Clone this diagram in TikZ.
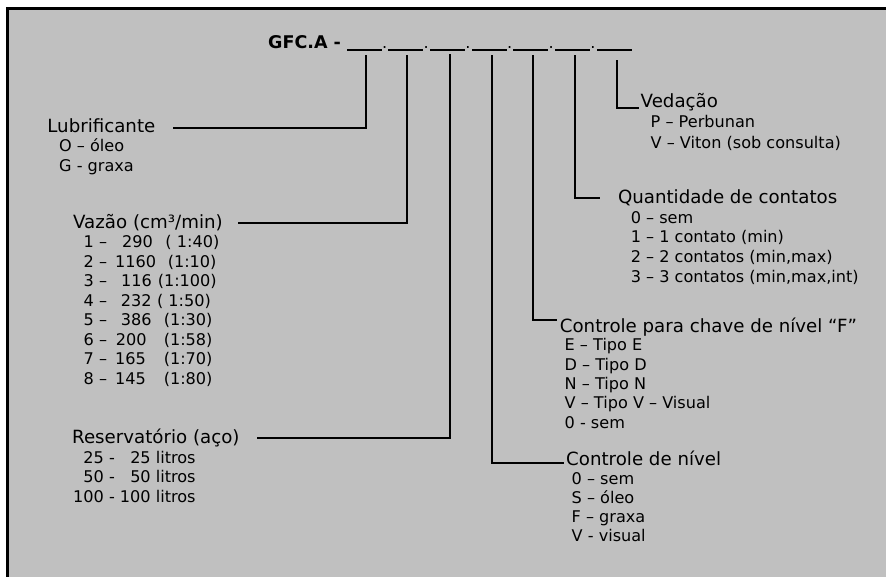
\documentclass[tikz,border=0pt]{standalone}
\usepackage{fontspec}
\setmainfont{DejaVu Sans}
\definecolor{bg}{RGB}{192,192,192}
\newcommand\vzrow[5]{\makebox[#4pt][l]{#1}\makebox[\dimexpr#5pt-#4pt\relax][l]{#2}#3}
\newcommand\rsrow[2]{\makebox[30.75pt][r]{#1} - \makebox[30.75pt][r]{#2} litros}
\begin{document}
\begin{tikzpicture}[x=1pt,y=-1pt,
  head/.style={anchor=base west,inner sep=0pt,font=\fontsize{18.2}{20}\selectfont},
  item/.style={anchor=base west,inner sep=0pt,font=\fontsize{16.1}{19}\selectfont},
  conn/.style={line width=2pt},
  blank/.style={fill=black,inner sep=0pt,minimum width=35pt,minimum height=1.6pt},
  dotlbl/.style={anchor=base,inner sep=0pt,font=\fontsize{16.1}{19}\selectfont}]
\useasboundingbox (0,0) rectangle (886,577);
\fill[bg] (6,7) rectangle (886,577);
\draw[line width=3pt] (7.25,577) -- (7.25,8.5) -- (886,8.5);

% title and blanks
\node[head,font=\bfseries\fontsize{17.5}{20}\selectfont] (title) at (268,48.3) {GFC.A -};
\foreach \i in {1,...,7} \node[blank] (b\i) at ({364.2+41.67*(\i-1)},50.2) {};
\foreach \i in {1,...,6} \node[dotlbl] (d\i) at ({384.6+41.67*(\i-1)},48.3) {.};

% headings
\node[head] (ved) at (640.5,107.7) {Vedação};
\node[head] (qty) at (617.8,203.3) {Quantidade de contatos};
\node[head] (cpc) at (559.7,332.5) {Controle para chave de nível “F”};
\node[head] (cdn) at (566,465) {Controle de nível};
\node[head] (lub) at (47.2,132.3) {Lubrificante};
\node[head] (vaz) at (73,228.3) {Vazão (cm³/min)};
\node[head] (res) at (72,443.3) {Reservatório (aço)};

% items
\node[item] (ved1) at (650.5,128) {P – Perbunan};
\node[item] (ved2) at (650.5,148.3) {V – Viton (sob consulta)};

\node[item] (qty1) at (630.6,223.3) {0 – sem};
\node[item] (qty2) at (630.6,243) {1 – 1 contato (min)};
\node[item] (qty3) at (630.6,262.6) {2 – 2 contatos (min,max)};
\node[item] (qty4) at (630.6,282.3) {3 – 3 contatos (min,max,int)};

\node[item] (cpc1) at (564.5,350.7) {E – Tipo E};
\node[item] (cpc2) at (564.5,370.1) {D – Tipo D};
\node[item] (cpc3) at (564.5,389.5) {N – Tipo N};
\node[item] (cpc4) at (564.5,408.9) {V – Tipo V – Visual};
\node[item] (cpc5) at (564.5,428.3) {0 - sem};

\node[item] (cdn1) at (571.5,484) {0 – sem};
\node[item] (cdn2) at (571.5,503.2) {S – óleo};
\node[item] (cdn3) at (571.5,522.4) {F – graxa};
\node[item] (cdn4) at (571.5,541.6) {V - visual};

\node[item] (lub1) at (59,151.7) {O – óleo};
\node[item] (lub2) at (59,171.7) {G - graxa};

\node[item] (vaz1) at (83.5,248) {\vzrow{1 –}{290}{( 1:40)}{38.5}{81.8}};
\node[item] (vaz2) at (83.5,267.4) {\vzrow{2 –}{1160}{(1:10)}{31.5}{84.1}};
\node[item] (vaz3) at (83.5,286.9) {\vzrow{3 –}{116}{(1:100)}{37.5}{74.1}};
\node[item] (vaz4) at (83.5,306.3) {\vzrow{4 –}{232}{( 1:50)}{37.3}{73.4}};
\node[item] (vaz5) at (83.5,325.7) {\vzrow{5 –}{386}{(1:30)}{37.3}{80.1}};
\node[item] (vaz6) at (83.5,345.2) {\vzrow{6 –}{200}{(1:58)}{32.3}{80.1}};
\node[item] (vaz7) at (83.5,364.6) {\vzrow{7 –}{165}{(1:70)}{31.5}{80.1}};
\node[item] (vaz8) at (83.5,384) {\vzrow{8 –}{145}{(1:80)}{31.5}{80.1}};

\node[item] (res1) at (73,463) {\rsrow{25}{25}};
\node[item] (res2) at (73,482.5) {\rsrow{50}{50}};
\node[item] (res3) at (73,502) {\rsrow{100}{100}};

% connectors
\draw[conn] ([xshift=1.5pt,yshift=-4pt]b1.south) |- ([shift={(125.8pt,4.6pt)}]lub.base west);
\draw[conn] ([xshift=0.8pt,yshift=-4pt]b2.south) |- ([shift={(165pt,5pt)}]vaz.base west);
\draw[conn] ([xshift=2.5pt,yshift=-3pt]b3.south) |- ([shift={(185pt,5pt)}]res.base west);
\draw[conn] ([xshift=2.5pt,yshift=-4pt]b4.south) |- ([shift={(-2pt,1.7pt)}]cdn.base west);
\draw[conn] ([xshift=2.4pt,yshift=-4pt]b5.south) |- ([shift={(-2.7pt,12.5pt)}]cpc.base west);
\draw[conn] ([xshift=2.5pt,yshift=-4pt]b6.south) |- ([shift={(-17.8pt,5pt)}]qty.base west);
\draw[conn] ([xshift=2.5pt,yshift=-9pt]b7.south) |- ([shift={(-1.2pt,-0.6pt)}]ved.base west);
\end{tikzpicture}
\end{document}
